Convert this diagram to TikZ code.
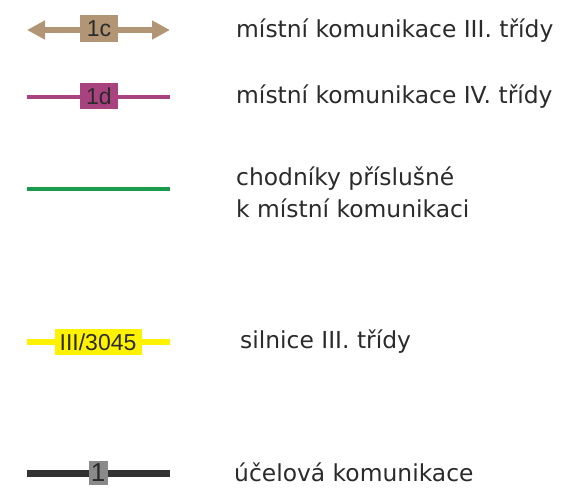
\documentclass[tikz,border=0pt]{standalone}
\usepackage{fontspec}
\setmainfont{DejaVu Sans}
\newfontfamily\boxfont{Liberation Sans}
\usetikzlibrary{arrows.meta}
\definecolor{tanc}{HTML}{B29574}
\definecolor{magc}{HTML}{A8437F}
\definecolor{grnc}{HTML}{1A9A4C}
\definecolor{yelc}{HTML}{FFF200}
\definecolor{darkc}{HTML}{333333}
\definecolor{grayc}{HTML}{8A8A8A}
\definecolor{txtc}{HTML}{2B2B2B}
\tikzset{
  lbl/.style={anchor=west, inner sep=0pt, text=txtc, font=\fontsize{23.4}{32}\selectfont, align=left},
  tag/.style={inner sep=0pt, text=txtc, font=\boxfont\fontsize{23}{23}\selectfont},
}
\begin{document}
\begin{tikzpicture}[x=1pt,y=-1pt]
\useasboundingbox (0,0) rectangle (569,487);
% row 1
\coordinate (a1) at (27,30); \coordinate (b1) at (170,30);
\draw[tanc, line width=6, {Triangle[width=18pt,length=18pt]}-{Triangle[width=18pt,length=18pt]}] (a1) -- (b1);
\node[tag, fill=tanc, minimum width=38, minimum height=27] (t1) at (99,29) {1c};
\node[lbl] (l1) at (236,31) {místní komunikace III. třídy};
% row 2
\coordinate (a2) at (27,97); \coordinate (b2) at (170,97);
\draw[magc, line width=3.5] (a2) -- (b2);
\node[tag, fill=magc, minimum width=38, minimum height=26] (t2) at (99,96) {1d};
\node[lbl] (l2) at (236,97) {místní komunikace IV. třídy};
% row 3
\coordinate (a3) at (27,189); \coordinate (b3) at (170,189);
\draw[grnc, line width=3.5] (a3) -- (b3);
\node[lbl] (l3) at (236,192) {chodníky příslušné\\k místní komunikaci};
% row 4
\coordinate (a4) at (27,342); \coordinate (b4) at (170,342);
\draw[yelc, line width=6] (a4) -- (b4);
\node[tag, fill=yelc, minimum width=87, minimum height=26] (t4) at (98,342) {III/3045};
\node[lbl] (l4) at (240,342) {silnice III. třídy};
% row 5
\coordinate (a5) at (27,473); \coordinate (b5) at (170,473);
\draw[darkc, line width=7] (a5) -- (b5);
\node[tag, fill=grayc, minimum width=19, minimum height=24, font=\boxfont\fontsize{26}{26}\selectfont] (t5) at (98,473) {1};
\node[lbl] (l5) at (234,472) {účelová komunikace};
\end{tikzpicture}
\end{document}
